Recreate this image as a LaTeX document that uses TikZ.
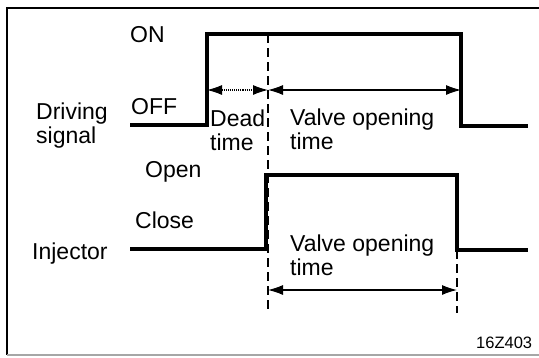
\documentclass[tikz,border=0pt]{standalone}
\usepackage{fontspec}
\setmainfont{Liberation Sans}
\usetikzlibrary{arrows.meta}
\begin{document}
\begin{tikzpicture}[x=1pt,y=-1pt,
  wave/.style={line width=3.2pt,line join=miter,line cap=butt},
  guide/.style={line width=1.3pt,dash pattern=on 9pt off 5pt},
  dim/.style={line width=1.1pt,{Latex[length=15pt,width=10pt]}-{Latex[length=15pt,width=10pt]}},
  lbl/.style={anchor=base west,inner sep=0pt,font=\fontsize{23}{24}\selectfont},
  lbl2/.style={lbl,align=left}]
\useasboundingbox (0,0) rectangle (539,357);
% frame
\draw[line width=2pt] (539,8) -- (7,8) -- (7,355);
\draw[line width=1.5pt,black!35] (7,355) -- (539,355);
% coordinates of driving signal
\coordinate (d0) at (130,125);
\coordinate (d1) at (207,125);
\coordinate (d2) at (207,34);
\coordinate (d3) at (461,34);
\coordinate (d4) at (461,126);
\coordinate (d5) at (528,126);
\draw[wave] (d0) -- (d1) -- (d2) -- (d3) -- (d4) -- (d5);
% injector
\coordinate (i0) at (130,249);
\coordinate (i1) at (266,249);
\coordinate (i2) at (266,175);
\coordinate (i3) at (457,175);
\coordinate (i4) at (457,250);
\coordinate (i5) at (528,250);
\draw[wave] (i0) -- (i1) -- (i2) -- (i3) -- (i4) -- (i5);
% dashed guides
\coordinate (g1t) at (268,34);
\coordinate (g1b) at (268,313);
\coordinate (g2t) at (457,250);
\coordinate (g2b) at (457,313);
\draw[guide] (g1t) -- (g1b);
\draw[guide] (g2t) -- (g2b);
% dimension arrows
\coordinate (a1) at (207,90);
\coordinate (a2) at (268,90);
\coordinate (a3) at (461,90);
\coordinate (b1) at (268,290);
\coordinate (b2) at (457,290);
\draw[dim,densely dotted] (a1) -- (a2);
\draw[dim] (a2) -- (a3);
\draw[dim] (b1) -- (b2);
% labels (base = baseline of last line)
\node[lbl] (on) at (130,42) {ON};
\node[lbl] (off) at (131,114) {OFF};
\node[lbl2] (drv) at (36,143) {Driving\\signal};
\node[lbl2] (dead) at (210,150) {Dead\\time};
\node[lbl2] (vot1) at (290,149) {Valve opening\\time};
\node[lbl] (open) at (145,177) {Open};
\node[lbl] (close) at (135,228) {Close};
\node[lbl] (inj) at (32,259) {Injector};
\node[lbl2] (vot2) at (290,275) {Valve opening\\time};
\node[anchor=base west,inner sep=0pt,font=\fontsize{16.5}{18}\selectfont] (code) at (476,348) {16Z403};
\end{tikzpicture}
\end{document}
